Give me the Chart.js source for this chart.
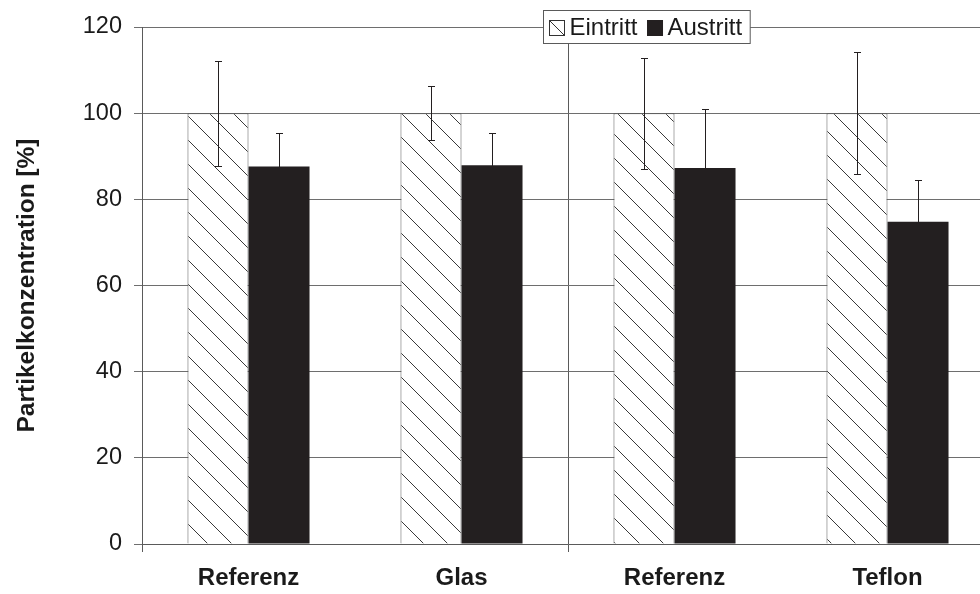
<!DOCTYPE html>
<html>
<head>
<meta charset="utf-8">
<script src="https://cdn.jsdelivr.net/npm/chart.js@4/dist/chart.umd.min.js"></script>
<style>
  html, body { margin: 0; padding: 0; background: #fff; overflow: hidden; }
  #wrap { position: relative; width: 1000px; height: 594px; }
</style>
</head>
<body>
<div id="wrap"><canvas id="chart" width="1000" height="594"></canvas></div>
<script>
const categories = ['Referenz', 'Glas', 'Referenz', 'Teflon'];
const eintritt = [100, 100, 100, 100];
const eintrittErr = [12.2, 6.2, 12.9, 14.1];
const austritt = [87.6, 87.9, 87.3, 74.8];
const austrittErr = [7.8, 7.5, 13.6, 9.6];
const yTicks = [0, 20, 40, 60, 80, 100, 120];

const FONT = '"Liberation Sans", Arial, sans-serif';
const INK = '#231f20';
const LINE = '#5a5a5a';

// diagonal hatch for the inlet bars
function makeHatch(step) {
  const c = document.createElement('canvas');
  c.width = step;
  c.height = step;
  const g = c.getContext('2d');
  g.fillStyle = '#fff';
  g.fillRect(0, 0, step, step);
  g.strokeStyle = '#3a3a3a';
  g.lineWidth = 1;
  g.beginPath();
  g.moveTo(-2, -2);
  g.lineTo(step + 2, step + 2);
  g.stroke();
  return g.createPattern(c, 'repeat');
}
const hatch = makeHatch(24);

// symmetric error bars; the lower half vanishes inside the solid bars
const errorBars = {
  id: 'errorBars',
  afterDatasetsDraw(chart) {
    const { ctx } = chart;
    const y = chart.scales.y;
    chart.data.datasets.forEach((ds, di) => {
      const meta = chart.getDatasetMeta(di);
      meta.data.forEach((bar, i) => {
        const v = ds.data[i];
        const e = ds.errors[i];
        const top = Math.round(y.getPixelForValue(v + e)) + 0.5;
        const bot = Math.round(y.getPixelForValue(v - e)) + 0.5;
        const x = Math.round(bar.x) + 0.5;
        ctx.save();
        ctx.strokeStyle = INK;
        ctx.lineWidth = 1;
        ctx.beginPath();
        ctx.moveTo(x, top);
        ctx.lineTo(x, bot);
        ctx.moveTo(x - 3.5, top);
        ctx.lineTo(x + 3.5, top);
        ctx.moveTo(x - 3.5, bot);
        ctx.lineTo(x + 3.5, bot);
        ctx.stroke();
        ctx.restore();
      });
    });
  }
};

// boxed legend sitting over the top gridline
const boxLegend = {
  id: 'boxLegend',
  afterDraw(chart) {
    const { ctx, chartArea } = chart;
    const font = '24px ' + FONT;
    ctx.save();
    ctx.font = font;
    const sym = 15;
    const items = chart.data.datasets.map((ds) => ({ ds, w: ctx.measureText(ds.label).width }));
    const total = 6 + items.reduce((s, it) => s + sym + 5 + it.w, 0) + 10 * (items.length - 1) + 8;
    const cx = chartArea.left + chartArea.width * 0.5925;
    const left = Math.round(cx - total / 2) + 0.5;
    const top = 10.5;
    const h = 33;
    ctx.fillStyle = '#fff';
    ctx.fillRect(left, top, total, h);
    ctx.strokeStyle = LINE;
    ctx.lineWidth = 1;
    ctx.strokeRect(left, top, total, h);
    let x = left + 6;
    const sy = Math.round(top + (h - sym) / 2) + 0.5;
    items.forEach((it, i) => {
      if (i === 0) {
        ctx.fillStyle = '#fff';
        ctx.fillRect(x, sy, sym, sym);
        ctx.strokeStyle = '#333';
        ctx.strokeRect(x, sy, sym, sym);
        ctx.beginPath();
        ctx.moveTo(x, sy);
        ctx.lineTo(x + sym, sy + sym);
        ctx.stroke();
      } else {
        ctx.fillStyle = INK;
        ctx.fillRect(x - 0.5, sy - 0.5, sym + 1, sym + 1);
      }
      x += sym + 5;
      ctx.fillStyle = '#1a1a1a';
      ctx.textBaseline = 'middle';
      ctx.textAlign = 'left';
      ctx.fillText(it.ds.label, x, top + h / 2 + 1);
      x += it.w + 10;
    });
    ctx.restore();
  }
};

new Chart(document.getElementById('chart'), {
  type: 'bar',
  data: {
    labels: categories,
    datasets: [
      {
        label: 'Eintritt',
        data: eintritt,
        errors: eintrittErr,
        backgroundColor: hatch,
        borderColor: '#555',
        borderWidth: 1,
        barPercentage: 1,
        categoryPercentage: 0.573
      },
      {
        label: 'Austritt',
        data: austritt,
        errors: austrittErr,
        backgroundColor: INK,
        borderWidth: 0,
        barPercentage: 1,
        categoryPercentage: 0.573
      }
    ]
  },
  options: {
    responsive: false,
    animation: false,
    devicePixelRatio: 1,
    layout: { padding: { top: 27, right: 6, left: 13, bottom: 0 } },
    plugins: {
      legend: { display: false },
      tooltip: { enabled: false }
    },
    scales: {
      x: {
        offset: true,
        border: { display: true, color: LINE, width: 1 },
        grid: {
          offset: true,
          drawOnChartArea: true,
          tickLength: 8,
          lineWidth: 1,
          color: (c) => (c.index === 0 || c.index === 2 ? LINE : 'transparent')
        },
        ticks: {
          color: '#1a1a1a',
          padding: 12,
          maxRotation: 0,
          autoSkip: false,
          font: { family: FONT, size: 24, weight: 'bold' }
        },
        afterFit(scale) { scale.height = 50; }
      },
      y: {
        min: 0,
        max: 120,
        afterBuildTicks(scale) { scale.ticks = yTicks.map((v) => ({ value: v })); },
        border: { display: true, color: LINE, width: 1 },
        grid: { color: '#6e6e6e', lineWidth: 1, tickLength: 8 },
        ticks: {
          color: '#1a1a1a',
          padding: 12,
          font: { family: FONT, size: 23.5 }
        },
        title: {
          display: true,
          text: 'Partikelkonzentration [%]',
          color: '#1a1a1a',
          padding: 0,
          font: { family: FONT, size: 24.5, weight: 'bold' }
        },
        afterFit(scale) { scale.width = 129; }
      }
    }
  },
  plugins: [errorBars, boxLegend]
});
</script>
</body>
</html>
